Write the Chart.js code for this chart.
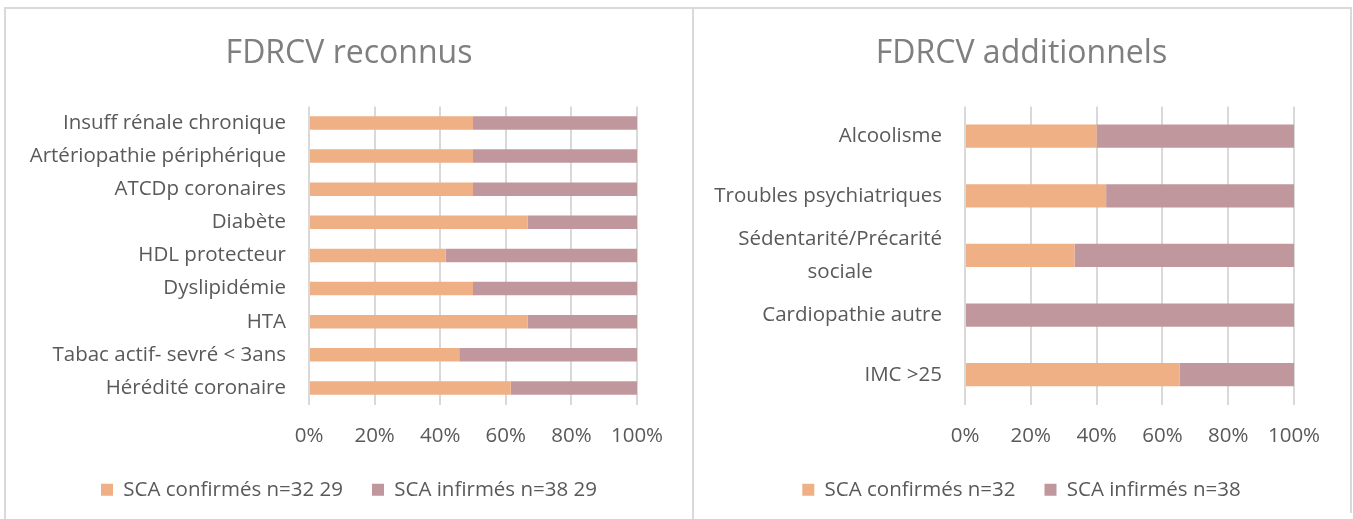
<!DOCTYPE html>
<html>
<head>
<meta charset="utf-8">
<script src="https://cdn.jsdelivr.net/npm/chart.js@4.4.1/dist/chart.umd.min.js"></script>
<style>
  html, body { margin: 0; padding: 0; background: #ffffff; }
  body { width: 1353px; height: 519px; position: relative; overflow: hidden; }
  .panel { position: absolute; box-sizing: border-box; }
  #p1 { left: 4px; top: 7px; width: 690px; height: 530px; border: 2px solid #d9d9d9; border-bottom: none; }
  #p2 { left: 692px; top: 7px; width: 660px; height: 506px; border-top: 2px solid #d9d9d9; border-right: 2px solid #d9d9d9; border-left: 2px solid #d9d9d9; }
  .cv { position: absolute; }
  #w1 { left: 5px; top: 8px; width: 688px; height: 504px; }
  #w2 { left: 693px; top: 8px; width: 657px; height: 504px; }
</style>
</head>
<body>
<div class="panel" id="p1"></div>
<div class="panel" id="p2"></div>
<div class="cv" id="w1"><canvas id="c1" width="688" height="504"></canvas></div>
<div class="cv" id="w2"><canvas id="c2" width="657" height="504"></canvas></div>
<script>
// ---- Data ----
const titleLeft = "FDRCV reconnus";
const categoriesLeft = [
  "Insuff rénale chronique",
  "Artériopathie périphérique",
  "ATCDp coronaires",
  "Diabète",
  "HDL protecteur",
  "Dyslipidémie",
  "HTA",
  "Tabac actif- sevré < 3ans",
  "Hérédité coronaire"
];
const confirmedLeft = [50, 50, 50, 66.7, 41.7, 50, 66.7, 45.8, 61.5];
const infirmedLeft  = [50, 50, 50, 33.3, 58.3, 50, 33.3, 54.2, 38.5];
const legendLeft = ["SCA confirmés n=32 29", "SCA infirmés n=38 29"];

const titleRight = "FDRCV additionnels";
const categoriesRight = [
  "Alcoolisme",
  "Troubles psychiatriques",
  ["Sédentarité/Précarité", "sociale"],
  "Cardiopathie autre",
  "IMC >25"
];
const confirmedRight = [40, 42.9, 33.3, 0, 65.2];
const infirmedRight  = [60, 57.1, 66.7, 100, 34.8];
const legendRight = ["SCA confirmés n=32", "SCA infirmés n=38"];

const xTicks = [0, 20, 40, 60, 80, 100];

// ---- Styles ----
const ORANGE = "#eeb084";
const MAUVE = "#c0979c";
const TEXT = "#595959";
const GRID = "#d9d9d9";
const FONT = "'Open Sans', 'Liberation Sans', sans-serif";
const FS = 20.5;

// centre the lines of a multi-line category label on each other
function centredLabel(value) {
  const lab = this.getLabelForValue(value);
  if (!Array.isArray(lab)) return lab;
  const ctx = this.ctx;
  ctx.save();
  ctx.font = FS + "px " + FONT;
  const widths = lab.map(l => ctx.measureText(l).width);
  const spW = ctx.measureText(" ").width;
  ctx.restore();
  const maxW = Math.max(...widths);
  return lab.map((l, i) => l + " ".repeat(Math.round((maxW - widths[i]) / 2 / spW)));
}

function makeChart(canvasId, title, cats, conf, inf, legendNames, opts) {
  return new Chart(document.getElementById(canvasId), {
    type: "bar",
    data: {
      labels: cats,
      datasets: [
        { label: legendNames[0], data: conf, backgroundColor: ORANGE, borderWidth: 0,
          barPercentage: opts.barPct, categoryPercentage: 1 },
        { label: legendNames[1], data: inf, backgroundColor: MAUVE, borderWidth: 0,
          barPercentage: opts.barPct, categoryPercentage: 1 }
      ]
    },
    options: {
      indexAxis: "y",
      responsive: false,
      animation: false,
      devicePixelRatio: 1,
      layout: { padding: { left: 0, right: 0, top: 0, bottom: 2 } },
      plugins: {
        title: {
          display: true, text: title, color: "#7f7f7f",
          font: { family: FONT, size: 32, weight: "normal", lineHeight: 1.2 },
          padding: { top: 27, bottom: 33 }
        },
        legend: {
          display: true, position: "bottom",
          labels: { color: TEXT, font: { family: FONT, size: FS }, boxWidth: 12, boxHeight: 12, padding: 29 }
        },
        tooltip: { enabled: false }
      },
      scales: {
        x: {
          stacked: true, min: 0, max: 100,
          afterBuildTicks: (s) => { s.ticks = xTicks.map(v => ({ value: v })); },
          ticks: { color: TEXT, font: { family: FONT, size: FS }, padding: 19, callback: (v) => v + "%" },
          grid: { color: GRID, lineWidth: 2, drawTicks: false },
          border: { display: false },
          afterFit: (s) => { s.height = 46; }
        },
        y: {
          stacked: true,
          ticks: { color: TEXT, font: { family: FONT, size: FS, lineHeight: opts.lineHeight }, padding: 23, autoSkip: false, callback: centredLabel },
          grid: { display: false, drawTicks: false },
          border: { display: false },
          afterFit: (s) => { s.width = opts.yWidth; }
        },
        yr: {
          type: "category", position: "right", display: true,
          ticks: { display: false },
          grid: { display: false, drawTicks: false },
          border: { display: false },
          afterFit: (s) => { s.width = 56; }
        }
      }
    }
  });
}

makeChart("c1", titleLeft, categoriesLeft, confirmedLeft, infirmedLeft, legendLeft, { barPct: 0.41, yWidth: 304, lineHeight: 1.2 });
makeChart("c2", titleRight, categoriesRight, confirmedRight, infirmedRight, legendRight, { barPct: 0.39, yWidth: 272, lineHeight: 1.6 });
</script>
</body>
</html>
